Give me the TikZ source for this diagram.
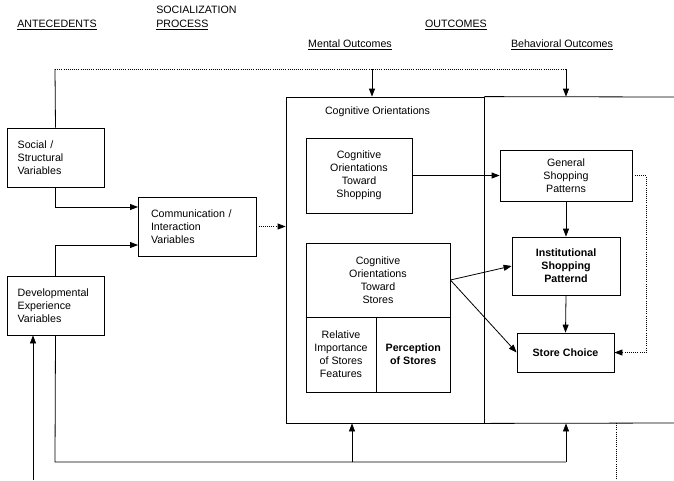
\documentclass[tikz,border=0pt]{standalone}
\usepackage{fontspec}
\setmainfont{Liberation Sans}
\usetikzlibrary{arrows.meta,calc}
\tikzset{
  txt/.style={font=\fontsize{8}{9.75}\selectfont, inner sep=0pt},
  box/.style={draw, line width=0.6pt, inner sep=0pt, align=center, font=\fontsize{8}{9.75}\selectfont},
  lbox/.style={draw, line width=0.6pt, inner ysep=0pt, align=left, font=\fontsize{8}{9.75}\selectfont},
  ln/.style={line width=0.6pt},
  arr/.style={line width=0.6pt, -{Triangle[length=6pt,width=4.5pt]}},
  dln/.style={line width=0.6pt, densely dotted},
  darr/.style={line width=0.6pt, densely dotted, -{Triangle[length=6pt,width=4.5pt]}}
}
\begin{document}
\begin{tikzpicture}[x=0.75pt,y=-0.75pt]
\useasboundingbox (0,0) rectangle (674,480);

% headers
\node[txt] (hAnt) at (57,25) {\underline{ANTECEDENTS}};
\node[txt, anchor=west, align=left] (hSoc) at (156,18) {SOCIALIZATION\\[1pt]\underline{PROCESS}};
\node[txt] (hOut) at (456,25) {\underline{OUTCOMES}};
\node[txt] (hMen) at (350,45) {\underline{Mental Outcomes}};
\node[txt] (hBeh) at (562,45) {\underline{Behavioral Outcomes}};

% antecedents and socialization
\node[lbox, inner xsep=8pt, text width=56.75pt, minimum height=44.25pt] (social) at (55.5,157.5) {Social /\\Structural\\Variables};
\node[lbox, inner xsep=9.75pt, text width=69pt, minimum height=44.25pt] (comm) at (197,226.5) {Communication /\\Interaction\\Variables};
\node[lbox, inner xsep=8pt, text width=56.75pt, minimum height=44.25pt] (dev) at (55.5,305.5) {Developmental\\Experience\\Variables};

% outcomes frame
\node[box, minimum width=148.5pt, minimum height=244.5pt] (mental) at (385,260) {};
\coordinate (behTR) at (674,97);
\coordinate (behBR) at (674,423);
\draw[ln] (mental.north east) -- (behTR);
\draw[ln] (mental.south east) -- (behBR);
\node[txt] (coglab) at (377.5,112) {Cognitive Orientations};

% mental boxes
\node[box, minimum width=79.5pt, minimum height=56.25pt] (shop) at (359,175.5) {Cognitive\\Orientations\\Toward\\Shopping};
\node[box, minimum width=108pt, minimum height=55.5pt] (stores) at (378,280) {Cognitive\\Orientations\\Toward\\Stores};
\node[box, minimum width=52.5pt, minimum height=56.25pt] (relimp) at (341,354.5) {Relative\\Importance\\of Stores\\Features};
\node[box, minimum width=55.5pt, minimum height=56.25pt, font=\fontsize{8}{9.75}\selectfont\bfseries] (perc) at (413.25,354.5) {Perception\\of Stores};

% behavioral boxes
\node[box, minimum width=99pt, minimum height=38.25pt] (gen) at (566,175.5) {General\\Shopping\\Patterns};
\node[box, minimum width=81pt, minimum height=43.5pt, font=\fontsize{8}{9.75}\selectfont\bfseries] (inst) at (566,266) {Institutional\\Shopping\\Patternd};
\node[box, minimum width=72.75pt, minimum height=29.25pt, font=\fontsize{8}{9.75}\selectfont\bfseries] (choice) at (565.5,352.5) {Store Choice};

% coordinates for connectors
\coordinate (topL) at (55,69);
\coordinate (topM) at (372,69);
\coordinate (topR) at (566,69);
\coordinate (cin1) at (138,207);
\coordinate (cin2) at (138,245);
\coordinate (dR) at (646,176);
\coordinate (botL) at (55,462);
\coordinate (botM) at (352,462);
\coordinate (botR) at (566,462);
\coordinate (inA) at (33,480);
\coordinate (outA) at (616,423);
\coordinate (outB) at (616,480);

% top feedback
\draw[ln] (social.north) -- (topL);
\draw[dln] (topL) -- (topR);
\draw[arr] (topM) -- (topM |- mental.north);
\draw[arr] (topR) -- (topR |- mental.north);

% antecedents to communication
\draw[arr] (social.south) |- (cin1);
\draw[arr] (dev.north) |- (cin2);
\draw[darr] (comm.east) -- (comm.east -| mental.west);

% inner arrows
\draw[arr] (shop.east) -- (gen.west);
\draw[arr] (gen.south) -- (inst.north);
\draw[arr] (inst.south) -- (choice.north);
\draw[arr] (stores.east) -- (inst.west);
\draw[arr] (stores.east) -- (choice.west);
\draw[darr] (gen.east) -- (gen.east -| dR) |- (choice.east);

% bottom
\draw[ln] (dev.south) -- (botL) -- (botR);
\draw[arr] (botM) -- (botM |- mental.south);
\draw[arr] (botR) -- (botR |- mental.south);
\draw[arr] (inA) -- (inA |- dev.south);
\draw[dln] (outA) -- (outB);
\end{tikzpicture}
\end{document}
